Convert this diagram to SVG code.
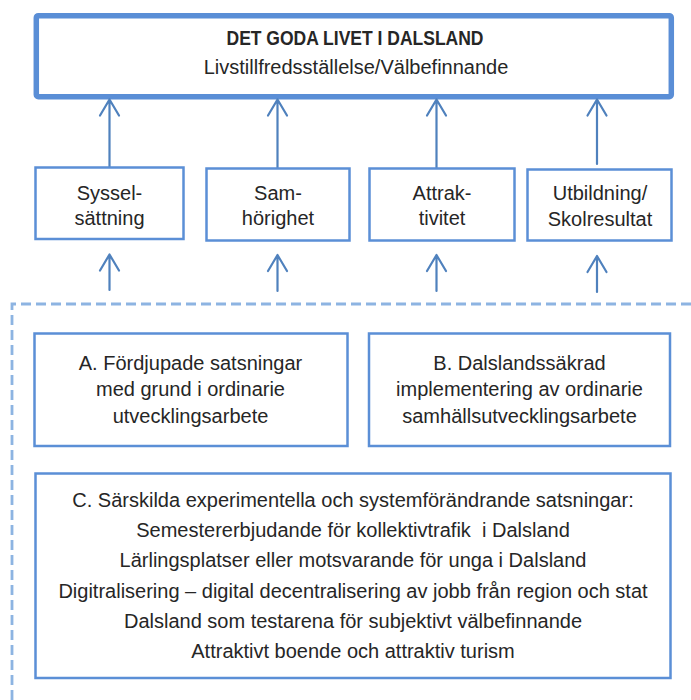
<svg xmlns="http://www.w3.org/2000/svg" width="691" height="700" viewBox="0 0 691 700">
<defs>
<style>
.t{font-family:"Liberation Sans",Arial,sans-serif;font-size:20px;fill:#262626;text-anchor:middle}
.b{font-weight:bold}
.bx{fill:#fff;stroke:#5b8fd6;stroke-width:2.5}
.top{fill:#fff;stroke:#5a8ed6;stroke-width:5.5}
.ar{fill:none;stroke:#4f81bd;stroke-width:2.2;stroke-linecap:round;stroke-linejoin:round}
.dash{fill:none;stroke:#8db4e2;stroke-width:2.8;stroke-dasharray:10 5}
</style>
</defs>
<rect width="691" height="700" fill="#fff"/>
<g id="top">
<rect class="top" x="36.3" y="15.7" width="635" height="81" rx="2"/>
<text class="t b" x="355" y="45" textLength="257" lengthAdjust="spacingAndGlyphs">DET GODA LIVET I DALSLAND</text>
<text class="t" x="356" y="74">Livstillfredsställelse/Välbefinnande</text>
</g>
<g id="connectors">
<path class="ar" d="M109.5 167V99.5M100 115.5L109.5 99.5L119 115.5"/>
<path class="ar" d="M277.5 168V99.5M268 115.5L277.5 99.5L287 115.5"/>
<path class="ar" d="M436.5 168V99.5M427 115.5L436.5 99.5L446 115.5"/>
<path class="ar" d="M597 164V99.5M587.5 115.5L597 99.5L606.5 115.5"/>
<path class="ar" d="M109.5 290V254.5M100 270.5L109.5 254.5L119 270.5"/>
<path class="ar" d="M277.5 291V255M268 271L277.5 255L287 271"/>
<path class="ar" d="M436.5 291V255M427 271L436.5 255L446 271"/>
<path class="ar" d="M597 292V256M587.5 272L597 256L606.5 272"/>
</g>
<g id="group-frame">
<path class="dash" d="M12 700V304H691"/>
</g>
<g id="syssel">
<rect class="bx" x="35.5" y="167.5" width="148" height="71.5"/>
<text class="t" x="109.5" y="199.5">Syssel-</text>
<text class="t" x="109.5" y="225">sättning</text>
</g>
<g id="sam">
<rect class="bx" x="206.5" y="168.5" width="143" height="72"/>
<text class="t" x="278" y="199.5">Sam-</text>
<text class="t" x="278" y="225">hörighet</text>
</g>
<g id="attrak">
<rect class="bx" x="369.5" y="168.5" width="145" height="72"/>
<text class="t" x="442" y="199.5">Attrak-</text>
<text class="t" x="442" y="225">tivitet</text>
</g>
<g id="utbildning">
<rect class="bx" x="527.5" y="169.5" width="144" height="71"/>
<text class="t" x="600" y="200">Utbildning/</text>
<text class="t" x="600" y="226">Skolresultat</text>
</g>
<g id="boxA">
<rect class="bx" x="34.5" y="333.5" width="313" height="112.5"/>
<text class="t" x="190.5" y="370">A. Fördjupade satsningar</text>
<text class="t" x="190.5" y="396">med grund i ordinarie</text>
<text class="t" x="190.5" y="422.5">utvecklingsarbete</text>
</g>
<g id="boxB">
<rect class="bx" x="369" y="333.5" width="301" height="112.5"/>
<text class="t" x="519.5" y="370">B. Dalslandssäkrad</text>
<text class="t" x="519.5" y="396">implementering av ordinarie</text>
<text class="t" x="519.5" y="422.5">samhällsutvecklingsarbete</text>
</g>
<g id="boxC">
<rect class="bx" x="35.5" y="473.5" width="635" height="204.5"/>
<text class="t" x="353" y="507">C. Särskilda experimentella och systemförändrande satsningar:</text>
<text class="t" x="353" y="537" style="white-space:pre">Semestererbjudande för kollektivtrafik  i Dalsland</text>
<text class="t" x="353" y="567">Lärlingsplatser eller motsvarande för unga i Dalsland</text>
<text class="t" x="353" y="597.5">Digitralisering – digital decentralisering av jobb från region och stat</text>
<text class="t" x="353" y="628">Dalsland som testarena för subjektivt välbefinnande</text>
<text class="t" x="353" y="658">Attraktivt boende och attraktiv turism</text>
</g>
</svg>
